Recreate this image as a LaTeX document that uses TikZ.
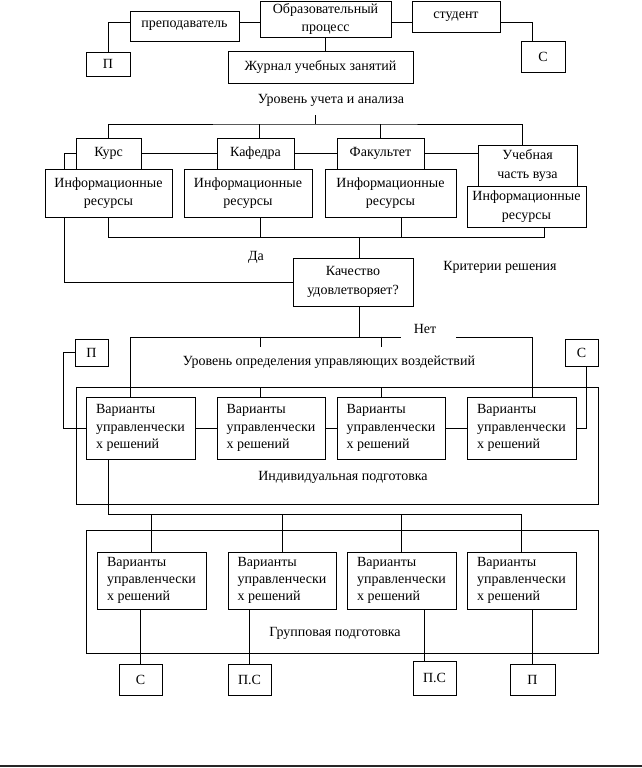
\documentclass[tikz,border=0pt]{standalone}
\usepackage{fontspec}
\setmainfont{Liberation Serif}
\usetikzlibrary{calc}
\newcommand\bx[7][]{%
  \pgfmathsetmacro\bw{(#5-#3)*0.75}%
  \pgfmathsetmacro\bh{(#6-#4)*0.75}%
  \node[box,minimum width=\bw pt,minimum height=\bh pt,#1] (#2) at ({(#3+#5)/2},{(#4+#6)/2}) {#7};%
}
\tikzset{
  box/.style={draw=black,line width=0.75pt,inner sep=0pt,align=center,font=\fontsize{10.5}{14}\selectfont},
  var/.style={align=left,font=\fontsize{10.5}{13}\selectfont},
  lbl/.style={inner sep=0pt,font=\fontsize{10.5}{14}\selectfont},
  ln/.style={draw=black,line width=0.75pt},
}
\begin{document}
\begin{tikzpicture}[x=0.75pt,y=-0.75pt]
\useasboundingbox (0,0) rectangle (642,768);
% top
\bx{obr}{260}{1}{391}{37}{Образовательный\\процесс}
\bx{prep}{130}{11}{239}{41}{преподаватель}
\bx{stud}{412}{1}{500}{32}{студент}
\bx{p1}{86}{52}{130}{76}{П}
\bx{s1}{521}{41}{565}{72}{С}
\bx{zhur}{228}{51}{413}{83}{Журнал учебных занятий}
\coordinate (h1) at (0,22);
\draw[ln] (prep.east |- h1) -- (obr.west |- h1);
\draw[ln] (obr.east |- h1) -- (stud.west |- h1);
\draw[ln] (prep.west |- h1) -| (p1.north);
\draw[ln] (stud.east |- h1) -| ($(s1.north)+(-11,0)$);
\draw[ln] (obr.south) -- (obr.south |- zhur.north);
\node[lbl] (lvl1) at (331,100) {Уровень учета и анализа};
% level 2
\bx{kurs}{76}{138}{141}{169}{Курс}
\bx{kaf}{217}{138}{294}{169}{Кафедра}
\bx{fak}{337}{138}{424}{169}{Факультет}
\bx{uch}{478}{145}{577}{186}{Учебная\\часть вуза}
\bx{ir1}{45}{169}{172}{217}{Информационные\\ресурсы}
\bx{ir2}{184}{169}{312}{217}{Информационные\\ресурсы}
\bx{ir3}{325}{169}{456}{217}{Информационные\\ресурсы}
\bx{ir4}{467}{186}{586}{227}{Информационные\\ресурсы}
\coordinate (t1) at (315,115);
\coordinate (bus1) at (315,124);
\draw[ln] (t1) -- (bus1);
\draw[ln] (kurs.north) |- (bus1) -| ($(uch.north)+(-5,0)$);
\draw[ln] ($(kaf.north)+(4,0)$) -- ($(kaf.north |- bus1)+(4,0)$);
\draw[ln] (fak.north) -- (fak.north |- bus1);
\draw[ln] (kurs.east) -- (kaf.west);
\draw[ln] (kaf.east) -- (fak.west);
\draw[ln] (fak.east) -- (fak.east -| uch.west);
\coordinate (l1) at (64,0);
\draw[ln] (kurs.west) -| (ir1.north -| l1);
% decision
\bx{kach}{293}{258}{413}{306}{Качество\\удовлетворяет?}
\coordinate (bus2) at (359,237);
\draw[ln] (ir1.south) |- (bus2);
\draw[ln] ($(ir4.south)+(17.5,0)$) |- (bus2);
\draw[ln] ($(ir2.south)+(12,0)$) -- ($(ir2.south |- bus2)+(12,0)$);
\draw[ln] ($(ir3.south)+(10.5,0)$) -- ($(ir3.south |- bus2)+(10.5,0)$);
\draw[ln] (bus2) -- ($(kach.north)+(6,0)$);
\draw[ln] (ir1.south -| l1) |- (kach.west);
\node[lbl] (da) at (256,257) {Да};
\node[lbl] (krit) at (500,267) {Критерии решения};
\node[lbl] (net) at (425,329) {Нет};
% level 3
\bx{ind}{76}{387}{598}{504}{}
\bx[var]{v1}{86}{397}{195}{459}{Варианты\\управленчески\\х решений}
\bx[var]{v2}{217}{397}{325}{459}{Варианты\\управленчески\\х решений}
\bx[var]{v3}{337}{397}{445}{459}{Варианты\\управленчески\\х решений}
\bx[var]{v4}{467}{397}{576}{459}{Варианты\\управленчески\\х решений}
\bx{p2}{75}{339}{108}{366}{П}
\bx{s2}{565}{339}{598}{366}{С}
\node[lbl] (lvl3) at (329,362) {Уровень определения управляющих воздействий};
\node[lbl] (indl) at (343,477) {Индивидуальная подготовка};
\coordinate (bus3) at (359,337);
\coordinate (gapL) at (401,337);
\coordinate (gapR) at (456,337);
\draw[ln] ($(kach.south)+(6,0)$) -- (bus3);
\draw[ln] ($(v1.north)+(-10.5,0)$) |- (gapL);
\draw[ln] (gapR) -| ($(v4.north)+(10.5,0)$);
\draw[ln] ($(v2.north)+(-11,-60)$) -- ++(0,10);
\draw[ln] ($(v2.north)+(-11,0)$) -- ++(0,-10);
\draw[ln] ($(v3.north)+(-10,-60)$) -- ++(0,10);
\draw[ln] ($(v3.north)+(-10,0)$) -- ++(0,-10);
\draw[ln] (v1.east) -- (v2.west);
\draw[ln] (v2.east) -- (v3.west);
\draw[ln] (v3.east) -- (v4.west);
\draw[ln] (p2.west) -| ($(v1.west)+(-22,0)$) -- (v1.west);
\draw[ln] ($(s2.south)+(4.5,0)$) |- (v4.east);
% level 4
\bx{grp}{86}{530}{598}{653}{}
\bx[var]{g1}{97}{552}{206}{609}{Варианты\\управленчески\\х решений}
\bx[var]{g2}{228}{552}{336}{609}{Варианты\\управленчески\\х решений}
\bx[var]{g3}{347}{552}{456}{609}{Варианты\\управленчески\\х решений}
\bx[var]{g4}{467}{552}{576}{609}{Варианты\\управленчески\\х решений}
\node[lbl] (grpl) at (335,633) {Групповая подготовка};
\coordinate (bus4) at (0,514);
\draw[ln] ($(v1.south)+(-32.5,0)$) |- (g4.north |- bus4) -- (g4.north);
\draw[ln] (g1.north |- bus4) -- (g1.north);
\draw[ln] (g2.north |- bus4) -- (g2.north);
\draw[ln] (g3.north |- bus4) -- (g3.north);
\bx{bs}{119}{664}{162}{695}{С}
\bx{bps1}{228}{664}{271}{695}{П.С}
\bx{bps2}{413}{661}{456}{695}{П.С}
\bx{bp}{510}{664}{555}{695}{П}
\draw[ln] (bs.north) -- (bs.north |- g1.south);
\draw[ln] (bps1.north) -- (bps1.north |- g2.south);
\draw[ln] ($(bps2.north)+(-10,0)$) coordinate (c3) -- (c3 |- g3.south);
\draw[ln] (bp.north) -- (bp.north |- g4.south);
% page rule
\coordinate (rl) at (0,766);
\coordinate (rr) at (642,766);
\draw[line width=1.6pt,black!85] (rl) -- (rr);
\end{tikzpicture}
\end{document}
